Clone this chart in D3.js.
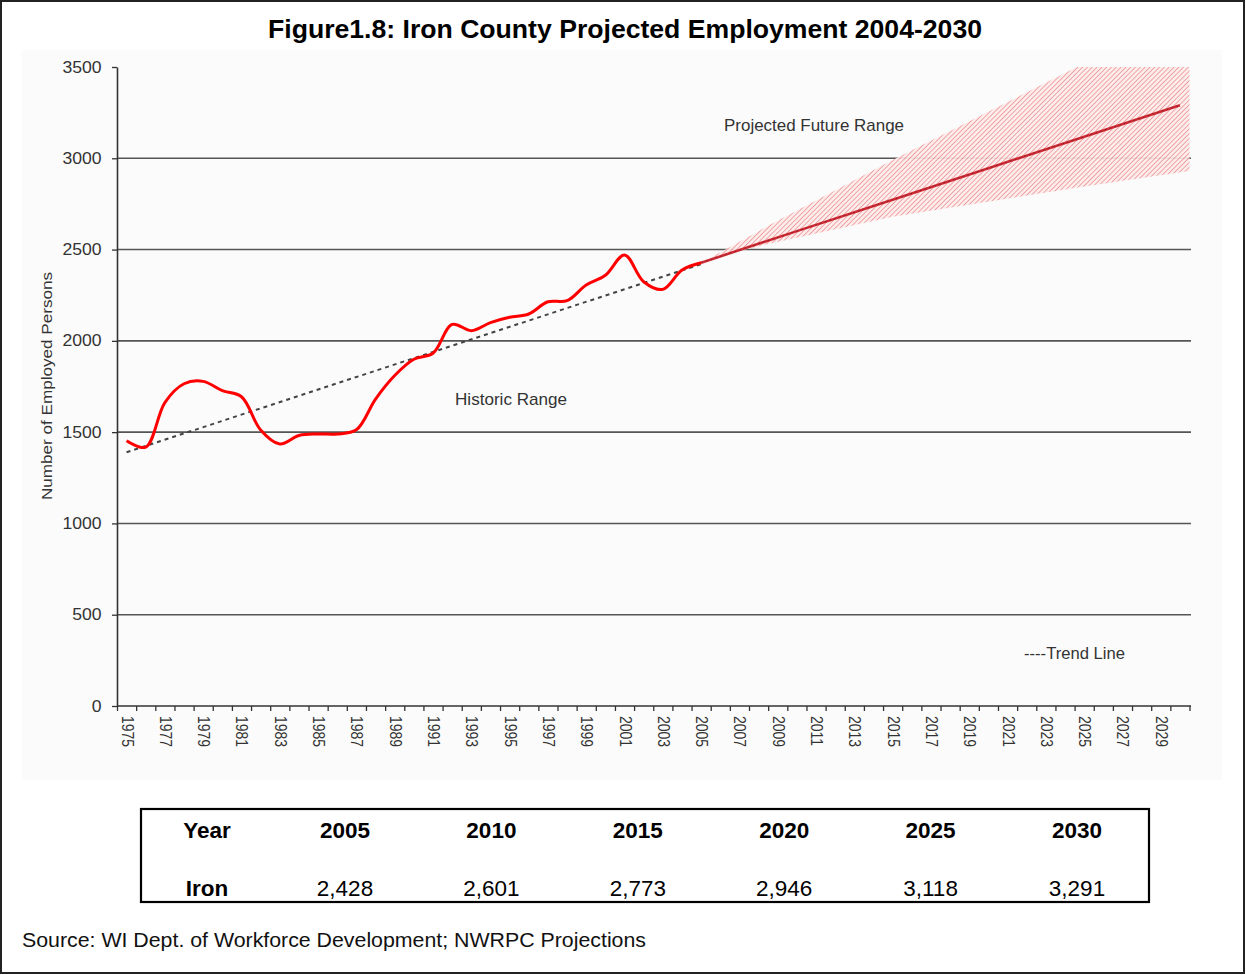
<!DOCTYPE html>
<html>
<head>
<meta charset="utf-8">
<script src="https://cdn.jsdelivr.net/npm/d3@7"></script>
<style>
  html, body { margin: 0; padding: 0; background: #fff; }
  svg text { font-family: "Liberation Sans", Arial, sans-serif; }
</style>
</head>
<body>
<div id="chart"></div>
<script>
// historic employment (smoothed line in the original)
const histYears = [1975, 1976, 1977, 1978, 1979, 1980, 1981, 1982, 1983, 1984, 1985, 1986, 1987, 1988, 1989,
  1990, 1991, 1992, 1993, 1994, 1995, 1996, 1997, 1998, 1999, 2000, 2001, 2002, 2003, 2004, 2005];
const histEmployed = [1453, 1418, 1662, 1765, 1778, 1727, 1694, 1512, 1435, 1482, 1490, 1490, 1513, 1681, 1810,
  1899, 1932, 2090, 2056, 2100, 2129, 2147, 2214, 2220, 2306, 2359, 2470, 2324, 2282, 2388, 2428];

// projection (also the table)
const tableYears = [2005, 2010, 2015, 2020, 2025, 2030];
const ironValues = [2428, 2601, 2773, 2946, 3118, 3291];

// dotted trend line ends
const trendYears = [1975, 2005];
const trendValues = [1390, 2420];

// hatched "projected future range" band
const bandYears = [2005.4, 2008.5, 2015, 2025, 2030.5];
const bandLow = [2450, 2530, 2680, 2845, 2930];
const bandHigh = [2450, 2630, 2990, 3520, 3800];

const yTicks = [0, 500, 1000, 1500, 2000, 2500, 3000, 3500];
const yGrid = [500, 1000, 1500, 2000, 2500, 3000];
const labelYears = [1975, 1977, 1979, 1981, 1983, 1985, 1987, 1989, 1991, 1993, 1995, 1997, 1999, 2001,
  2003, 2005, 2007, 2009, 2011, 2013, 2015, 2017, 2019, 2021, 2023, 2025, 2027, 2029];
const firstYear = 1975, lastYear = 2030;

const W = 1246, H = 975;
const plot = { left: 117, right: 1189.5, top: 67, bottom: 706 };

const svg = d3.select("#chart").append("svg").attr("width", W).attr("height", H);

const defs = svg.append("defs");
const pat = defs.append("pattern")
  .attr("id", "hatch")
  .attr("width", 3.4).attr("height", 3.4)
  .attr("patternUnits", "userSpaceOnUse")
  .attr("patternTransform", "rotate(45)");
pat.append("rect").attr("width", 3.4).attr("height", 3.4).attr("fill", "#fcebeb");
pat.append("line").attr("x1", 0).attr("y1", 0).attr("x2", 0).attr("y2", 3.4)
  .attr("stroke", "#ec8585").attr("stroke-width", 1.5);
defs.append("clipPath").attr("id", "plotClip").append("rect")
  .attr("x", plot.left).attr("y", plot.top)
  .attr("width", plot.right - plot.left + 3).attr("height", plot.bottom - plot.top);

// outer frame and faint chart background
svg.append("rect").attr("x", 1).attr("y", 1).attr("width", W - 3).attr("height", H - 3)
  .attr("fill", "#fff").attr("stroke", "#222").attr("stroke-width", 2);
svg.append("rect").attr("x", 22).attr("y", 50).attr("width", 1200).attr("height", 730).attr("fill", "#fbfbfb");

svg.append("text")
  .attr("x", 625).attr("y", 38)
  .attr("text-anchor", "middle")
  .attr("font-size", 25).attr("font-weight", "bold").attr("fill", "#000")
  .attr("textLength", 714).attr("lengthAdjust", "spacingAndGlyphs")
  .text("Figure1.8: Iron County Projected Employment 2004-2030");

const x = d3.scaleLinear().domain([firstYear - 0.5, lastYear + 0.5]).range([plot.left, plot.right]);
const y = d3.scaleLinear().domain([0, 3500]).range([plot.bottom, plot.top]);

// gridlines
svg.append("g").selectAll("line").data(yGrid).enter().append("line")
  .attr("x1", plot.left).attr("x2", plot.right + 1.5)
  .attr("y1", function (d) { return y(d); }).attr("y2", function (d) { return y(d); })
  .attr("stroke", "#555").attr("stroke-width", 1.6);

// hatched band
const band = bandYears.map(function (yr, i) { return { yr: yr, lo: bandLow[i], hi: bandHigh[i] }; });
svg.append("path")
  .datum(band)
  .attr("clip-path", "url(#plotClip)")
  .attr("d", d3.area()
    .x(function (d) { return x(d.yr); })
    .y0(function (d) { return y(d.lo); })
    .y1(function (d) { return y(d.hi); }))
  .attr("fill", "url(#hatch)").attr("opacity", 0.92);

// axes
const xTickVals = d3.range(firstYear - 0.5, lastYear + 1, 1);
svg.append("g")
  .attr("transform", "translate(0," + plot.bottom + ")")
  .call(d3.axisBottom(x).tickValues(xTickVals).tickSize(5).tickSizeOuter(0).tickFormat(""))
  .call(function (g) {
    g.select(".domain").attr("stroke", "#333").attr("stroke-width", 1.6).attr("d", "M" + plot.left + ",0H" + (plot.right + 1.5));
    g.selectAll("line").attr("stroke", "#333").attr("stroke-width", 1.3);
  });

svg.append("g").selectAll("text").data(labelYears).enter().append("text")
  .attr("transform", function (d) { return "translate(" + (x(d) - 5) + "," + (plot.bottom + 10) + ") rotate(90) scale(1,1.15)"; })
  .attr("font-size", 14).attr("fill", "#333")
  .text(function (d) { return d; });

svg.append("g")
  .attr("transform", "translate(" + plot.left + ",0)")
  .call(d3.axisLeft(y).tickValues(yTicks).tickFormat(d3.format("d")).tickSize(5).tickPadding(9).tickSizeOuter(0))
  .call(function (g) {
    g.select(".domain").attr("stroke", "#333").attr("stroke-width", 1.6);
    g.selectAll("line").attr("stroke", "#333").attr("stroke-width", 1.3);
    g.selectAll("text").attr("font-size", 16).attr("fill", "#333")
      .attr("font-family", "'Liberation Sans', Arial, sans-serif")
      .attr("transform", "scale(1.1,1)");
  });

svg.append("text")
  .attr("transform", "translate(52,386) rotate(-90)")
  .attr("text-anchor", "middle")
  .attr("font-size", 15).attr("fill", "#333")
  .attr("textLength", 228).attr("lengthAdjust", "spacingAndGlyphs")
  .text("Number of Employed Persons");

// trend line
svg.append("path")
  .datum(trendYears.map(function (yr, i) { return [yr, trendValues[i]]; }))
  .attr("d", d3.line().x(function (d) { return x(d[0]); }).y(function (d) { return y(d[1]); }))
  .attr("fill", "none").attr("stroke", "#444").attr("stroke-width", 2).attr("stroke-dasharray", "4,4");

// projection line
const projLine = d3.line().x(function (d) { return x(d[0]); }).y(function (d) { return y(d[1]); });
const projPts = tableYears.map(function (yr, i) { return [yr, ironValues[i]]; });
svg.append("path").datum(projPts).attr("d", projLine)
  .attr("fill", "none").attr("stroke", "#cf2b35").attr("stroke-width", 2.6);
svg.append("path").datum(projPts).attr("d", projLine)
  .attr("fill", "none").attr("stroke", "#5a1a1a").attr("stroke-width", 1).attr("stroke-dasharray", "2,3").attr("opacity", 0.5);

// historic line
svg.append("path")
  .datum(histYears.map(function (yr, i) { return [yr, histEmployed[i]]; }))
  .attr("d", d3.line().curve(d3.curveCatmullRom.alpha(0.5))
    .x(function (d) { return x(d[0]); }).y(function (d) { return y(d[1]); }))
  .attr("fill", "none").attr("stroke", "#ff0000").attr("stroke-width", 3).attr("stroke-linejoin", "round");

// in-chart labels
const notes = [
  { t: "Projected Future Range", x: 724, y: 131, w: 180 },
  { t: "Historic Range", x: 455, y: 405, w: 112 },
  { t: "----Trend Line", x: 1024, y: 659, w: 101 }
];
svg.append("g").selectAll("text").data(notes).enter().append("text")
  .attr("x", function (d) { return d.x; }).attr("y", function (d) { return d.y; })
  .attr("font-size", 17).attr("fill", "#333")
  .attr("textLength", function (d) { return d.w; }).attr("lengthAdjust", "spacingAndGlyphs")
  .text(function (d) { return d.t; });

// table
const tbl = { left: 141, right: 1149, top: 809, bottom: 902 };
svg.append("rect")
  .attr("x", tbl.left).attr("y", tbl.top)
  .attr("width", tbl.right - tbl.left).attr("height", tbl.bottom - tbl.top)
  .attr("fill", "#fff").attr("stroke", "#000").attr("stroke-width", 2.2);
const col = d3.scalePoint().domain(tableYears).range([345, 1077]);
svg.append("text").attr("x", 207).attr("y", 838).attr("text-anchor", "middle")
  .attr("font-size", 22.5).attr("font-weight", "bold").text("Year");
svg.append("text").attr("x", 207).attr("y", 896).attr("text-anchor", "middle")
  .attr("font-size", 22.5).attr("font-weight", "bold").text("Iron");
svg.append("g").selectAll("text").data(tableYears).enter().append("text")
  .attr("x", function (d) { return col(d); }).attr("y", 838).attr("text-anchor", "middle")
  .attr("font-size", 22.5).attr("font-weight", "bold").text(function (d) { return d; });
svg.append("g").selectAll("text").data(ironValues).enter().append("text")
  .attr("x", function (_, i) { return col(tableYears[i]); }).attr("y", 896).attr("text-anchor", "middle")
  .attr("font-size", 22.5).text(function (d) { return d3.format(",")(d); });

svg.append("text").attr("x", 22).attr("y", 947)
  .attr("font-size", 19.5).attr("fill", "#111")
  .attr("textLength", 624).attr("lengthAdjust", "spacingAndGlyphs")
  .text("Source: WI Dept. of Workforce Development; NWRPC Projections");
</script>
</body>
</html>
